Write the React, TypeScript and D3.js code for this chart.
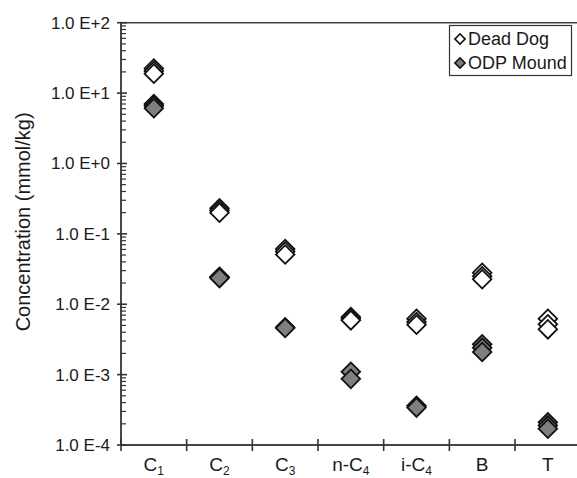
import React from 'react';
import * as d3 from 'd3';

// categories on the x axis (main text + subscript)
const categories = ['C1', 'C2', 'C3', 'n-C4', 'i-C4', 'B', 'T'];
const categoryText = ['C', 'C', 'C', 'n-C', 'i-C', 'B', 'T'];
const categorySub = ['1', '2', '3', '4', '4', '', ''];

// concentrations (mmol/kg), several samples per category
const deadDog = [
  [22.3, 20.6, 18.9],
  [0.231, 0.215, 0.2],
  [0.061, 0.056, 0.051],
  [0.0066, 0.0062, 0.0059],
  [0.0062, 0.0056, 0.0051],
  [0.028, 0.025, 0.0226],
  [0.0062, 0.0052, 0.0044],
];
const odpMound = [
  [7.0, 6.6, 6.1],
  [0.0245, 0.024, 0.0235],
  [0.0047, 0.0046],
  [0.0011, 0.00087],
  [0.00036, 0.00034],
  [0.0027, 0.0024, 0.0021],
  [0.00021, 0.00019, 0.00017],
];

const yTicks = [1e2, 1e1, 1e0, 1e-1, 1e-2, 1e-3, 1e-4];
const yTickLabels = ['1.0 E+2', '1.0 E+1', '1.0 E+0', '1.0 E-1', '1.0 E-2', '1.0 E-3', '1.0 E-4'];

const W = 577;
const H = 478;
const FONT = '"Liberation Sans", Arial, sans-serif';

export default function App() {
  const left = 121;
  const top = 22.7;
  const bottom = 445;

  const x = d3.scaleBand().domain(categories).range([left, 580.7]).padding(0);
  const y = d3.scaleLog().domain([1e-4, 1e2]).range([bottom, top]);

  const bigDiamond = d3.symbol(d3.symbolSquare, 172)();
  const smallDiamond = d3.symbol(d3.symbolSquare, 52)();

  const minorTicks: number[] = [];
  for (let e = -4; e < 2; e++) {
    for (let m = 2; m <= 9; m++) minorTicks.push(m * Math.pow(10, e));
  }

  const points = (series: number[][]) =>
    series.flatMap((vals, i) =>
      [...vals].sort((a, b) => b - a).map(v => ({ cat: categories[i], v }))
    );

  const ink = '#1a1a1a';

  return (
    <div style={{ position: 'absolute', left: 0, top: 0 }}>
      <svg width={W} height={H} style={{ display: 'block', background: '#fff' }} fontFamily={FONT}>
        {/* frame */}
        <line x1={left} x2={W + 5} y1={top} y2={top} stroke="#444" strokeWidth={1.6} />
        <line x1={left} x2={W + 5} y1={bottom} y2={bottom} stroke="#444" strokeWidth={1.8} />
        <line x1={left} x2={left} y1={top} y2={bottom} stroke="#333" strokeWidth={1.8} />

        {/* y minor ticks */}
        {minorTicks.map((t, i) => (
          <line key={'m' + i} x1={left} x2={left + 5} y1={y(t)} y2={y(t)} stroke="#333" strokeWidth={1.2} />
        ))}
        {/* y major ticks + labels */}
        {yTicks.map((t, i) => (
          <g key={'t' + i}>
            <line x1={left - 4} x2={left + 6} y1={y(t)} y2={y(t)} stroke="#333" strokeWidth={1.6} />
            <text x={110} y={y(t)} dy="0.35em" textAnchor="end" fontSize={17} fill={ink}>
              {yTickLabels[i]}
            </text>
          </g>
        ))}

        {/* x ticks at band edges */}
        {categories.map((c, i) => (
          <line key={'xt' + i} x1={x(c)!} x2={x(c)!} y1={bottom - 6} y2={bottom + 6} stroke="#333" strokeWidth={1.6} />
        ))}
        {categories.map((c, i) => (
          <text key={'xl' + i} x={x(c)! + x.bandwidth() / 2} y={471} textAnchor="middle" fontSize={19} fill={ink}>
            {categoryText[i]}
            {categorySub[i] && (
              <tspan fontSize={12} dy={4}>{categorySub[i]}</tspan>
            )}
          </text>
        ))}

        {/* y title */}
        <text
          transform={`translate(30,${(top + bottom) / 2 - 12}) rotate(-90)`}
          textAnchor="middle"
          fontSize={20}
          fill={ink}
        >
          Concentration (mmol/kg)
        </text>

        {/* Dead Dog */}
        {points(deadDog).map((p, i) => (
          <path
            key={'dd' + i}
            d={bigDiamond!}
            transform={`translate(${x(p.cat)! + x.bandwidth() / 2},${y(p.v)}) rotate(45)`}
            fill="#fff"
            stroke="#111"
            strokeWidth={1.8}
          />
        ))}
        {/* ODP Mound */}
        {points(odpMound).map((p, i) => (
          <path
            key={'om' + i}
            d={bigDiamond!}
            transform={`translate(${x(p.cat)! + x.bandwidth() / 2},${y(p.v)}) rotate(45)`}
            fill="#7f7f7f"
            stroke="#111"
            strokeWidth={1.8}
          />
        ))}

        {/* legend */}
        <g>
          <rect x={449.5} y={25.5} width={122} height={50} fill="#fff" stroke="#333" strokeWidth={1.2} />
          <path d={smallDiamond!} transform="translate(460,39) rotate(45)" fill="#fff" stroke="#111" strokeWidth={1.6} />
          <text x={468} y={39} dy="0.35em" fontSize={18} fill={ink}>Dead Dog</text>
          <path d={smallDiamond!} transform="translate(460,63) rotate(45)" fill="#7f7f7f" stroke="#111" strokeWidth={1.6} />
          <text x={468} y={63} dy="0.35em" fontSize={18} fill={ink}>ODP Mound</text>
        </g>
      </svg>
    </div>
  );
}
